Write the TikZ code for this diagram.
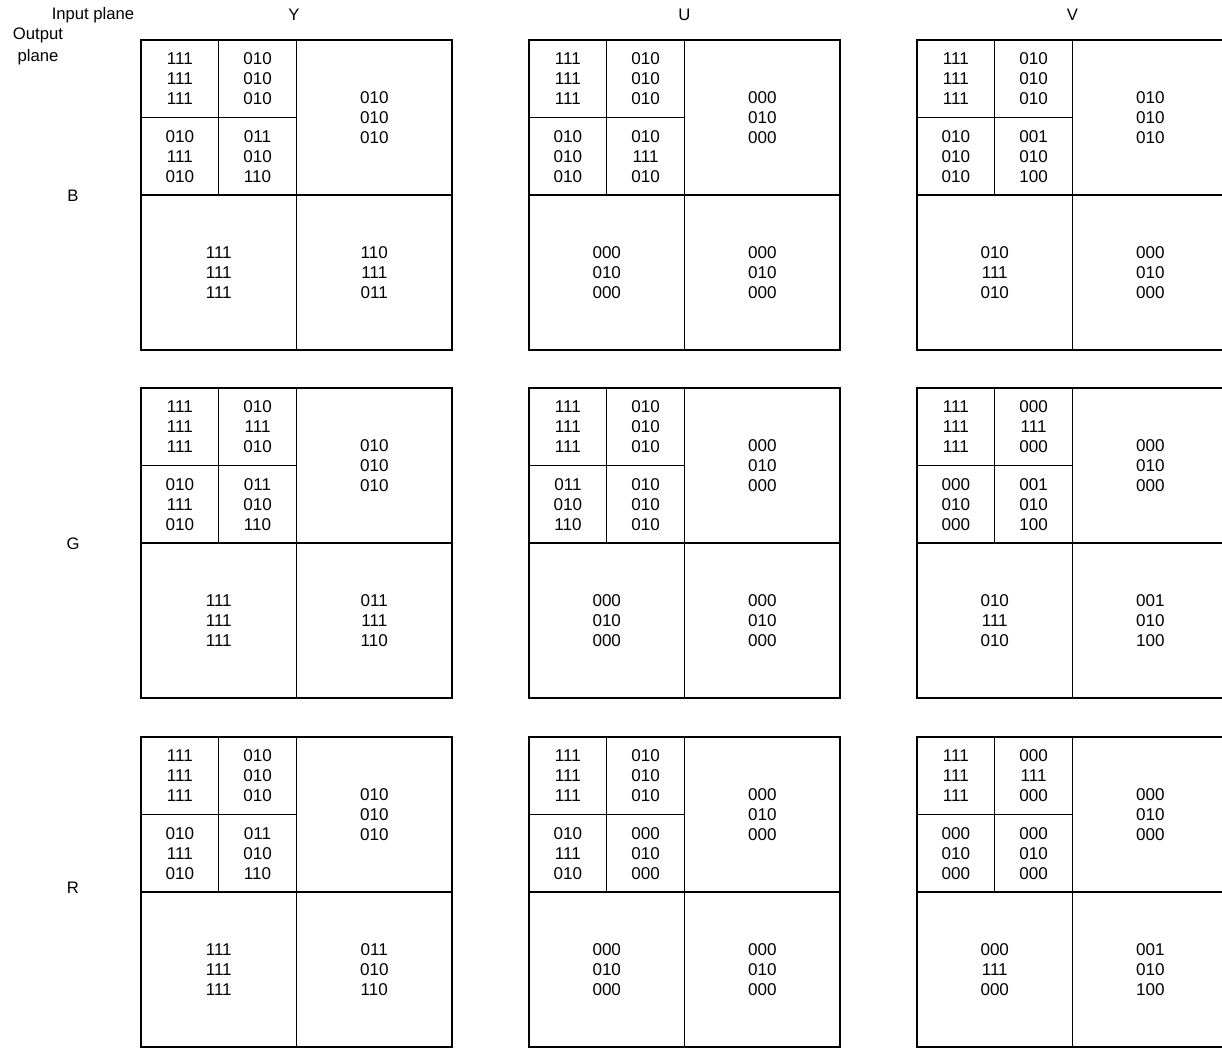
\documentclass[tikz,border=0pt]{standalone}
\usepackage{fontspec}
\setmainfont{Liberation Sans}
\usetikzlibrary{positioning}

% one kernel block: #1 name, #2-#5 small cells, #6 right half, #7-#8 bottom halves
\newcommand{\kblock}[8]{%
  \draw[gridline] (0,0) rectangle (311,310);
  \draw[gridline] (155.5,0) -- (155.5,310);
  \draw[gridline] (0,155) -- (311,155);
  \draw[gridline] (77.75,0) -- (77.75,155);
  \draw[gridline] (0,77.5) -- (155.5,77.5);
  \node[bits] (#1-tl) at (38.9,38.8)  {#2};
  \node[bits] (#1-tr) at (116.6,38.8) {#3};
  \node[bits] (#1-bl) at (38.9,116.3) {#4};
  \node[bits] (#1-br) at (116.6,116.3) {#5};
  \node[bits] (#1-r)  at (233.3,77.5) {#6};
  \node[bits] (#1-lo) at (77.75,232.5) {#7};
  \node[bits] (#1-ro) at (233.3,232.5) {#8};
}

\begin{document}
\begin{tikzpicture}[x=0.75pt, y=-0.75pt,
    gridline/.style={draw=black, line width=1pt},
    bits/.style={align=center, inner sep=0pt, font=\fontsize{12.8}{15}\selectfont},
    lbl/.style={inner sep=0pt, font=\fontsize{12.5}{16.5}\selectfont}]
  \clip (0,0) rectangle (1222,1048);

  % --- headers ---
  \node[lbl] (inplane) at (93,15) {Input plane};
  \node[lbl, align=center] (outplane) at (38,46) {Output\\plane};
  \node[lbl] (colY) at (294,15) {Y};
  \node[lbl] (colU) at (684.5,15) {U};
  \node[lbl] (colV) at (1072.5,15) {V};
  \node[lbl] (rowB) at (73,196) {B};
  \node[lbl] (rowG) at (73,544) {G};
  \node[lbl] (rowR) at (73,888) {R};

  % --- row B ---
  \begin{scope}[shift={(141,40)}]
    \kblock{BY}{111\\111\\111}{010\\010\\010}{010\\111\\010}{011\\010\\110}{010\\010\\010}{111\\111\\111}{110\\111\\011}
  \end{scope}
  \begin{scope}[shift={(529,40)}]
    \kblock{BU}{111\\111\\111}{010\\010\\010}{010\\010\\010}{010\\111\\010}{000\\010\\000}{000\\010\\000}{000\\010\\000}
  \end{scope}
  \begin{scope}[shift={(917,40)}]
    \kblock{BV}{111\\111\\111}{010\\010\\010}{010\\010\\010}{001\\010\\100}{010\\010\\010}{010\\111\\010}{000\\010\\000}
  \end{scope}

  % --- row G ---
  \begin{scope}[shift={(141,388)}]
    \kblock{GY}{111\\111\\111}{010\\111\\010}{010\\111\\010}{011\\010\\110}{010\\010\\010}{111\\111\\111}{011\\111\\110}
  \end{scope}
  \begin{scope}[shift={(529,388)}]
    \kblock{GU}{111\\111\\111}{010\\010\\010}{011\\010\\110}{010\\010\\010}{000\\010\\000}{000\\010\\000}{000\\010\\000}
  \end{scope}
  \begin{scope}[shift={(917,388)}]
    \kblock{GV}{111\\111\\111}{000\\111\\000}{000\\010\\000}{001\\010\\100}{000\\010\\000}{010\\111\\010}{001\\010\\100}
  \end{scope}

  % --- row R ---
  \begin{scope}[shift={(141,737)}]
    \kblock{RY}{111\\111\\111}{010\\010\\010}{010\\111\\010}{011\\010\\110}{010\\010\\010}{111\\111\\111}{011\\010\\110}
  \end{scope}
  \begin{scope}[shift={(529,737)}]
    \kblock{RU}{111\\111\\111}{010\\010\\010}{010\\111\\010}{000\\010\\000}{000\\010\\000}{000\\010\\000}{000\\010\\000}
  \end{scope}
  \begin{scope}[shift={(917,737)}]
    \kblock{RV}{111\\111\\111}{000\\111\\000}{000\\010\\000}{000\\010\\000}{000\\010\\000}{000\\111\\000}{001\\010\\100}
  \end{scope}
\end{tikzpicture}
\end{document}
